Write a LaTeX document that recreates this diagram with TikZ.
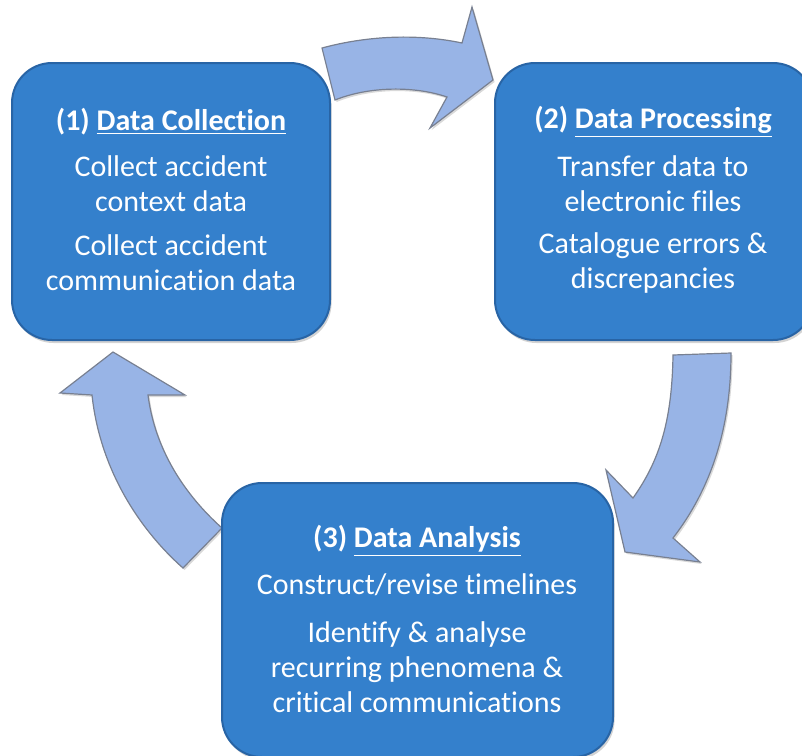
\documentclass[tikz,border=0pt]{standalone}
\usepackage{fontspec}
\setmainfont{Carlito}[Ligatures=NoCommon]
\usepackage{tikz}
\usetikzlibrary{shadows}
\definecolor{boxblue}{RGB}{52,128,204}
\definecolor{boxedge}{RGB}{40,100,165}
\definecolor{arrowblue}{RGB}{152,180,230}
\definecolor{arrowedge}{RGB}{120,128,145}

\tikzset{
  stepbox/.style={draw=boxedge, line width=1pt, fill=boxblue, rounded corners=20pt,
    drop shadow={shadow xshift=0.8pt, shadow yshift=-1.5pt, opacity=0.35}},
  steptitle/.style={text=white, font=\fontsize{15}{18}\selectfont\bfseries},
  steptext/.style={text=white, align=center, font=\fontsize{15}{17.5}\selectfont},
  cyclearrow/.style={draw=arrowedge, line width=0.6pt, fill=arrowblue, line join=miter,
    drop shadow={shadow xshift=0.8pt, shadow yshift=-1pt, opacity=0.3}}
}

\begin{document}
\begin{tikzpicture}[x=0.5pt, y=-0.5pt]
  \clip (0,0) rectangle (802,755);

  % arrow (1) -> (2)
  \draw[cyclearrow] (322,48) .. controls (370,35) and (420,34) .. (462,43) -- (472,7) -- (493,80)
    -- (430,128) -- (447,97) .. controls (415,86) and (370,86) .. (335,100) -- cycle;
  % arrow (2) -> (3)
  \draw[cyclearrow] (673,355) -- (731,353) .. controls (731,430) and (710,490) .. (673,538)
    -- (700,562) -- (625,552) -- (606,470) -- (633,498) .. controls (660,460) and (672,420) .. (673,355) -- cycle;
  % arrow (3) -> (1)
  \draw[cyclearrow] (222,528) -- (183,568) .. controls (140,530) and (100,470) .. (92,395)
    -- (60,393) -- (113,352) -- (185,395) -- (148,395) .. controls (155,450) and (185,495) .. (222,528) -- cycle;

  % (1) Data Collection
  \node[stepbox, minimum width=159pt, minimum height=138.5pt] (box1) at (171,201.5) {};
  \node[steptitle] (title1) at (171,122) {(1) \underline{Data Collection}};
  \node[steptext] (text1a) at (171,183.5) {Collect accident\\context data};
  \node[steptext] (text1b) at (171,262.5) {Collect accident\\communication data};

  % (2) Data Processing
  \node[stepbox, minimum width=159pt, minimum height=138.5pt] (box2) at (654,201.5) {};
  \node[steptitle] (title2) at (653,122) {(2) \underline{Data Processing}};
  \node[steptext] (text2a) at (653,183.5) {Transfer data to\\electronic files};
  \node[steptext] (text2b) at (653,262.5) {Catalogue errors \&\\discrepancies};

  % (3) Data Analysis
  \node[stepbox, minimum width=195.5pt, minimum height=137pt] (box3) at (417.5,620) {};
  \node[steptitle] (title3) at (417,541) {(3) \underline{Data Analysis}};
  \node[steptext] (text3a) at (417,585) {Construct/revise timelines};
  \node[steptext] (text3b) at (417,667) {Identify \& analyse\\recurring phenomena \&\\critical communications};
\end{tikzpicture}
\end{document}
